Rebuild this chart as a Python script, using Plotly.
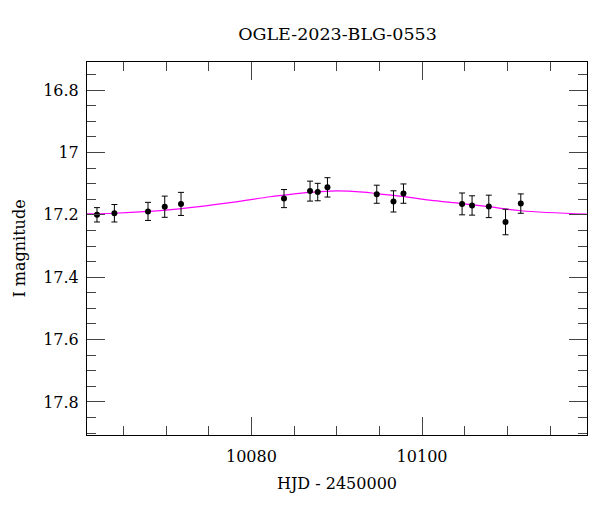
import plotly.graph_objects as go

# Observations (HJD - 2450000, I mag, error)
obs_hjd = [10061.90, 10063.94, 10067.88, 10069.84, 10071.75, 10083.82, 10086.87,
           10087.77, 10088.91, 10094.69, 10096.65, 10097.82, 10104.69, 10105.86,
           10107.82, 10109.78, 10111.57]
obs_mag = [17.200, 17.195, 17.189, 17.174, 17.165, 17.148, 17.124, 17.127,
           17.112, 17.134, 17.157, 17.132, 17.165, 17.170, 17.173, 17.223, 17.164]
obs_err = [0.023, 0.028, 0.029, 0.034, 0.037, 0.029, 0.032, 0.028, 0.031,
           0.029, 0.034, 0.031, 0.035, 0.031, 0.036, 0.041, 0.031]

# Model curve
model_hjd = [10060.7, 10063.9, 10067.9, 10071.8, 10077.5, 10082.2, 10083.8,
             10086.8, 10090.0, 10093.1, 10094.7, 10097.7, 10100.9, 10104.7,
             10107.8, 10111.6, 10119.3]
model_mag = [17.197, 17.195, 17.189, 17.180, 17.161, 17.142, 17.137, 17.128,
             17.123, 17.127, 17.132, 17.141, 17.153, 17.164, 17.174, 17.187, 17.198]

FONT = "DejaVu Serif"

fig = go.Figure()
fig.add_trace(go.Scatter(x=model_hjd, y=model_mag, mode="lines",
                         line=dict(color="#ff00ff", width=1.2, shape="spline"),
                         hoverinfo="skip", showlegend=False))
fig.add_trace(go.Scatter(x=obs_hjd, y=obs_mag, mode="markers",
                         marker=dict(color="black", size=6),
                         error_y=dict(type="data", array=obs_err, color="black",
                                      thickness=1, width=3),
                         showlegend=False))

axis_common = dict(showline=True, linecolor="black", linewidth=1, mirror="allticks",
                   ticks="inside", ticklen=18, tickcolor="#444", tickwidth=1,
                   showgrid=False, zeroline=False, automargin=False,
                   tickfont=dict(family=FONT, size=16, color="black"))

fig.update_xaxes(range=[10060.73, 10119.33], dtick=20, tick0=10080, tickformat="d",
                 ticklabelstandoff=7,
                 minor=dict(dtick=5, tick0=10080, ticks="inside", ticklen=9,
                            tickcolor="#444", showgrid=False),
                 title=dict(text="HJD - 2450000", font=dict(family=FONT, size=16, color="black"),
                            standoff=12),
                 **axis_common)
fig.update_yaxes(range=[17.906, 16.71], dtick=0.2, tick0=16.8,
                 ticklabelstandoff=4,
                 minor=dict(dtick=0.05, tick0=16.8, ticks="inside", ticklen=9,
                            tickcolor="#444", showgrid=False),
                 title=dict(text="I magnitude", font=dict(family=FONT, size=16, color="black"),
                            standoff=13),
                 **axis_common)

fig.update_layout(
    width=592, height=504,
    margin=dict(l=79, r=13, t=54, b=77),
    paper_bgcolor="white", plot_bgcolor="white",
    title=dict(text="OGLE-2023-BLG-0553", x=0.5566, xanchor="center", y=0.948, yanchor="middle",
               font=dict(family=FONT, size=17.5, color="black")),
)

fig.write_html("out.html")
